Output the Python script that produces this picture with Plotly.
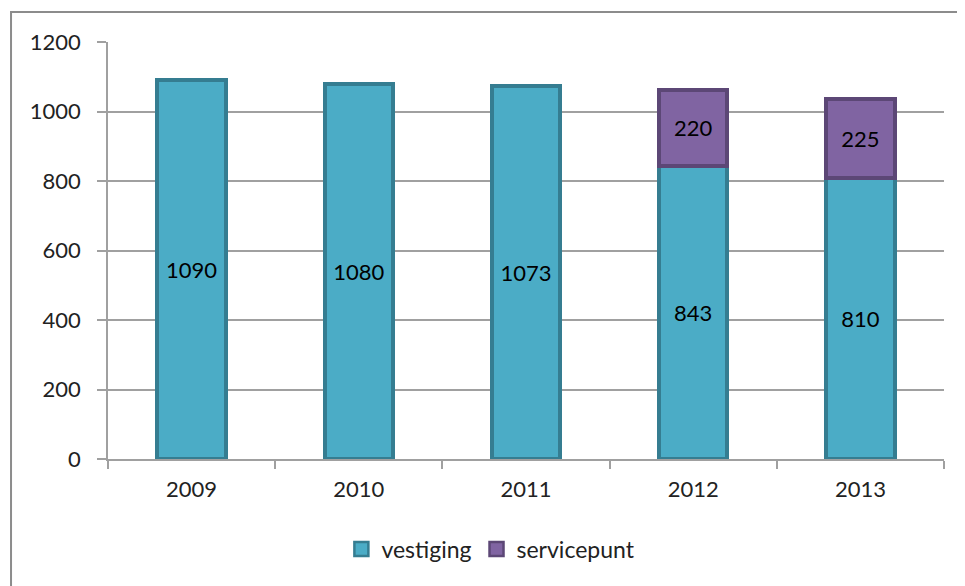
import plotly.graph_objects as go

years = ["2009", "2010", "2011", "2012", "2013"]
vestiging = [1090, 1080, 1073, 843, 810]
servicepunt = [None, None, None, 220, 225]
y_ticks = [0, 200, 400, 600, 800, 1000, 1200]

FONT = "Lato, 'Open Sans', sans-serif"
TEAL, TEAL_LINE = "#4BACC6", "#357D91"
PURPLE, PURPLE_LINE = "#8064A2", "#5C4776"

fig = go.Figure()
fig.add_trace(go.Bar(
    x=years, y=vestiging, name="vestiging", showlegend=False,
    marker=dict(color=TEAL, line=dict(color=TEAL_LINE, width=4)),
    text=[str(v) for v in vestiging], textposition="inside",
    insidetextanchor="middle",
    textfont=dict(color="#000000", size=22, family=FONT),
))
fig.add_trace(go.Bar(
    x=years, y=servicepunt, name="servicepunt", showlegend=False,
    marker=dict(color=PURPLE, line=dict(color=PURPLE_LINE, width=4)),
    text=["" if v is None else str(v) for v in servicepunt], textposition="inside",
    insidetextanchor="middle",
    textfont=dict(color="#000000", size=22, family=FONT),
))
# legend-only entries with larger square swatches
for name, fill, line in [("vestiging", TEAL, TEAL_LINE), ("servicepunt", PURPLE, PURPLE_LINE)]:
    fig.add_trace(go.Scatter(
        x=[None], y=[None], mode="markers", name=name,
        marker=dict(symbol="square", size=14, color=fill, line=dict(color=line, width=2.5)),
    ))

# page body adds an 8px offset; margins compensate so the plot area lands at x 108-944, y 42-459
fig.update_layout(
    barmode="stack",
    bargap=0.59,
    width=965, height=586,
    margin=dict(l=100, r=29, t=34, b=135, autoexpand=False),
    paper_bgcolor="white", plot_bgcolor="white",
    font=dict(family=FONT, size=22, color="#222222"),
    uniformtext=dict(mode="show", minsize=10),
    legend=dict(orientation="h", x=0.458, xanchor="center", y=-0.216, yanchor="middle",
                font=dict(size=23, color="#222222"), traceorder="normal", itemwidth=30),
    xaxis=dict(
        type="category", showline=True, linecolor="#A0A0A0", linewidth=1.5,
        ticks="outside", tickson="boundaries", ticklen=8, tickcolor="#A0A0A0", tickwidth=1.5,
        showgrid=False, tickfont=dict(size=22), fixedrange=True, ticklabelstandoff=10,
    ),
    yaxis=dict(
        range=[0, 1200], tickvals=y_ticks, showline=True, linecolor="#A0A0A0", linewidth=1.5,
        ticks="outside", ticklen=9, tickcolor="#A0A0A0", tickwidth=1.5,
        showgrid=True, gridcolor="#A0A0A0", gridwidth=1.5, zeroline=False,
        tickfont=dict(size=22), ticklabelstandoff=12,
    ),
    shapes=[dict(type="rect", xref="paper", yref="paper",
                 x0=-0.116, x1=1.2, y0=-0.6, y1=1.072,
                 line=dict(color="#8C8C8C", width=2), fillcolor="rgba(0,0,0,0)", layer="below")],
)

fig.write_html("out.html")
